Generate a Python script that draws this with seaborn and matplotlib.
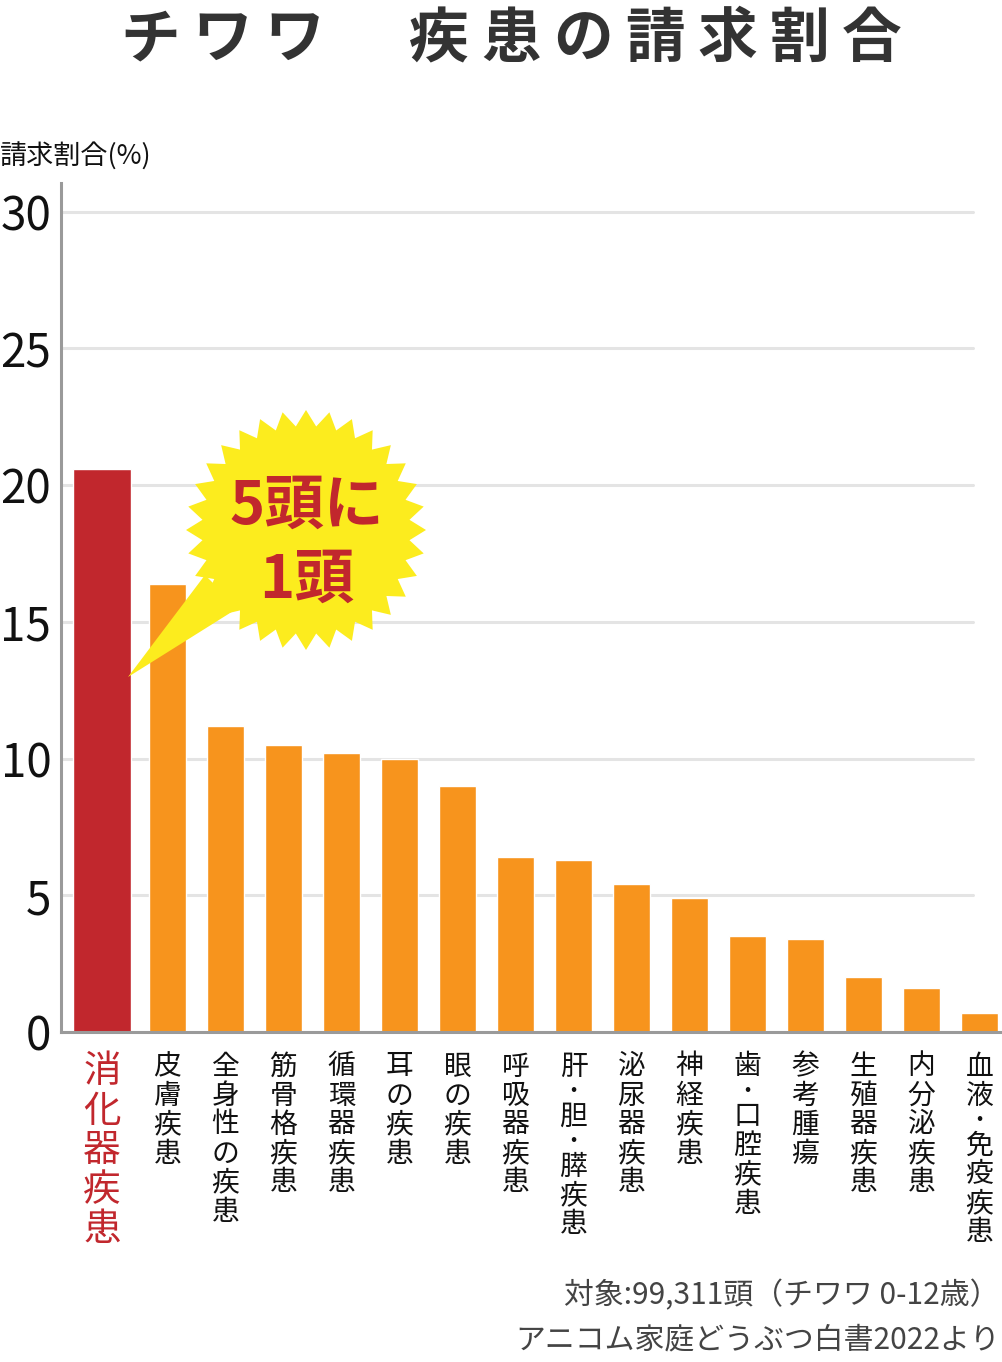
import matplotlib
matplotlib.use("Agg")
import matplotlib.pyplot as plt
import seaborn as sns
import numpy as np
from matplotlib.patches import Polygon

categories = ["消化器疾患", "皮膚疾患", "全身性の疾患", "筋骨格疾患", "循環器疾患", "耳の疾患",
              "眼の疾患", "呼吸器疾患", "肝・胆・膵疾患", "泌尿器疾患", "神経疾患", "歯・口腔疾患",
              "参考腫瘍", "生殖器疾患", "内分泌疾患", "血液・免疫疾患"]
values = [20.6, 16.4, 11.2, 10.5, 10.2, 10.0, 9.0, 6.4, 6.3, 5.4, 4.9, 3.5, 3.4, 2.0, 1.6, 0.7]
yticks = [0, 5, 10, 15, 20, 25, 30]
title = "チワワ　疾患の請求割合"
ylabel = "請求割合(%)"
callout = "5頭に\n1頭"
footer1 = "対象:99,311頭（チワワ 0-12歳）"
footer2 = "アニコム家庭どうぶつ白書2022より"

RED = "#C1272D"
ORANGE = "#F7941D"
YELLOW = "#FCEC1E"

sns.set_theme(style="white")
plt.rcParams["font.family"] = ["Noto Sans CJK JP", "DejaVu Sans"]

W, H = 1002, 1362
PT = 0.72  # points per pixel at 100 dpi
fig = plt.figure(figsize=(W / 100, H / 100), dpi=100)
ax = fig.add_axes([61 / W, (H - 1032) / H, (1002 - 61) / W, (1032 - 183) / H])

colors = [RED] + [ORANGE] * (len(categories) - 1)
sns.barplot(x=categories, y=values, hue=categories, palette=colors, width=0.64,
            saturation=1, legend=False, ax=ax, zorder=3)

# widen the highlighted first bar
for p in ax.patches:
    if abs(p.get_x() + p.get_width() / 2) < 0.3:
        p.set_x(p.get_x() - 0.31)
        p.set_width(1.0)

ax.set_xlim(-0.836, 15.39)
ax.set_ylim(0, 31.05)

for v in yticks:
    ax.axhline(v, xmin=0, xmax=0.969, color="#e4e4e4", lw=2.2, zorder=1)

ax.set_yticks(yticks)
ax.set_yticklabels([str(v) for v in yticks], fontsize=33, color="#111111")
ax.tick_params(axis="y", length=0, pad=7)

centers = sorted([p.get_x() + p.get_width() / 2 for p in ax.patches])
ax.set_xticks(centers)
ax.set_xticklabels([])
ax.tick_params(axis="x", length=0)

# vertical (stacked) category labels
for i, (c, cat) in enumerate(zip(centers, categories)):
    if i == 0:
        fs, pitch, color, top = 27, 39.5, RED, 1052
    else:
        fs, pitch, color, top = 20, 29, "#111111", 1052
    y = top
    for ch in cat:
        if ch == "・":
            cell, cfs, fw = 21, 13, "bold"
        else:
            cell, cfs, fw = pitch, fs, "normal"
        ax.annotate(ch, xy=(c, 0), xycoords=("data", "axes fraction"),
                    xytext=(0, -(y + cell / 2 - 1032) * PT), textcoords="offset points",
                    ha="center", va="center", fontsize=cfs, fontweight=fw, color=color,
                    annotation_clip=False)
        y += cell

for s in ["top", "right"]:
    ax.spines[s].set_visible(False)
for s in ["left", "bottom"]:
    ax.spines[s].set_color("#9a9a9a")
    ax.spines[s].set_linewidth(2.2)
    ax.spines[s].set_zorder(4)
ax.set_xlabel("")
ax.set_ylabel("")

# overlay in pixel space for decorations
ov = fig.add_axes([0, 0, 1, 1], zorder=10)
ov.set_xlim(0, W)
ov.set_ylim(H, 0)
ov.axis("off")
ov.patch.set_alpha(0)

# title with letter spacing
x0, tpitch = 150, 72.2
for i, ch in enumerate(title):
    ov.text(x0 + i * tpitch, 40, ch, fontsize=43, fontweight="bold", color="#333333",
            ha="center", va="center")

ov.text(0, 157, ylabel, fontsize=19.5, color="#111111", ha="left", va="center")

# starburst callout
cx, cy, r_out, r_in, n = 306, 530, 120, 104, 32
ang = np.linspace(0, 2 * np.pi, 2 * n, endpoint=False) - np.pi / 2
rad = np.where(np.arange(2 * n) % 2 == 0, r_out, r_in)
star = np.column_stack([cx + rad * np.cos(ang), cy + rad * np.sin(ang)])
ov.add_patch(Polygon([(205, 575), (128, 677), (238, 608)], closed=True,
                     facecolor=YELLOW, edgecolor="none"))
ov.add_patch(Polygon(star, closed=True, facecolor=YELLOW, edgecolor="none"))
for line, ly in zip(callout.split("\n"), [507, 581]):
    ov.text(cx + 1, ly, line, fontsize=43, fontweight="bold", color=RED,
            ha="center", va="center")

ov.text(1000, 1296, footer1, fontsize=21.5, color="#444444", ha="right", va="center")
ov.text(1000, 1340, footer2, fontsize=21.5, color="#444444", ha="right", va="center")

fig.savefig("out.png", dpi=100)
